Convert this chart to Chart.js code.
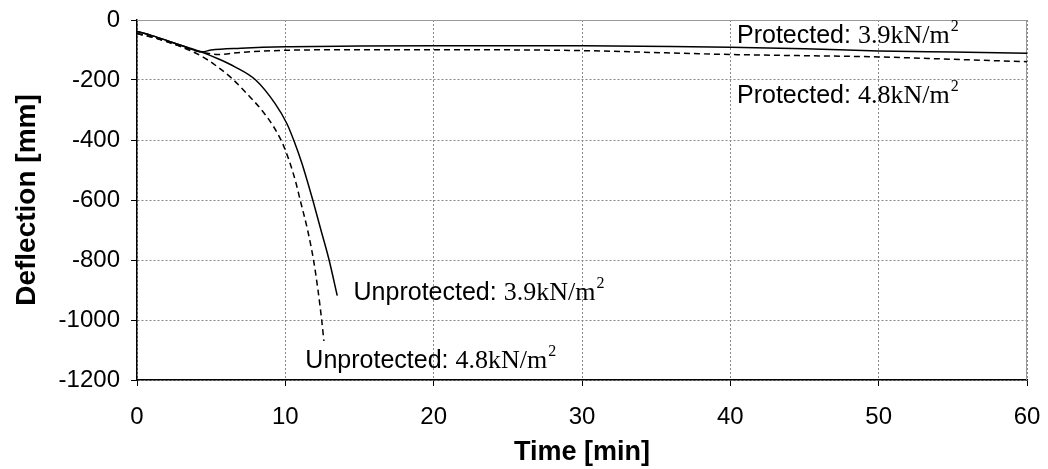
<!DOCTYPE html>
<html>
<head>
<meta charset="utf-8">
<script src="https://cdn.jsdelivr.net/npm/chart.js@4/dist/chart.umd.min.js"></script>
<style>
  html, body { margin: 0; padding: 0; background: #fff; }
  #wrap { width: 1048px; height: 469px; }
</style>
</head>
<body>
<div id="wrap"><canvas id="myChart" width="1048" height="469"></canvas></div>
<script>
// values: time [min] and deflection [mm]
const protected39Time = [0, 1, 2, 3, 4.4, 5, 7, 10, 15, 20, 30, 36, 40, 45, 50, 55, 60];
const protected39Defl = [-38, -52, -68, -85, -106, -100, -94, -89, -87, -86, -86, -88, -91, -96, -103, -107, -111];

const protected48Time = [0, 1, 2, 3, 4.4, 5.5, 7, 10, 15, 20, 30, 36, 40, 45, 50, 55, 60];
const protected48Defl = [-45, -57, -72, -88, -108, -115, -108, -101, -99, -99, -102, -110, -115, -119, -123, -131, -139];

const unprotected39Time = [0, 1, 2, 3, 4.4, 5.5, 6.6, 8, 9.3, 10.1, 10.6, 11.1, 11.5, 11.85, 12.4, 12.95, 13.5];
const unprotected39Defl = [-38, -52, -68, -85, -108, -130, -156, -200, -278, -345, -405, -475, -540, -600, -700, -800, -919];

const unprotected48Time = [0, 1, 2, 3, 4.4, 5.4, 6.4, 7.4, 8.4, 9.2, 9.8, 10.3, 10.7, 11, 11.5, 11.9, 12.2, 12.45, 12.6];
const unprotected48Defl = [-45, -57, -72, -90, -122, -155, -195, -245, -300, -355, -410, -475, -540, -600, -700, -800, -900, -1000, -1070];

const xTicks = [0, 10, 20, 30, 40, 50, 60];
const yTicks = [-1200, -1000, -800, -600, -400, -200, 0];

const labelPrefixes = ['Protected: ', 'Protected: ', 'Unprotected: ', 'Unprotected: '];
const labelLoads = ['3.9kN/m', '4.8kN/m', '3.9kN/m', '4.8kN/m'];

const SANS = "'Liberation Sans', Arial, sans-serif";
const SERIF = "'Liberation Serif', 'Times New Roman', serif";

function toPoints(ts, ds) {
  return ts.map((t, i) => ({ x: t, y: ds[i] }));
}

function line(label, ts, ds, dashed) {
  return {
    label: label,
    data: toPoints(ts, ds),
    borderColor: '#000',
    borderWidth: 1.5,
    borderDash: dashed ? [6, 4] : [],
    pointRadius: 0,
    fill: false,
    cubicInterpolationMode: 'monotone'
  };
}

// where each curve label sits, in data units (left edge, baseline)
const labelAnchors = [
  { x: 40.45, y: -77 },
  { x: 40.45, y: -277 },
  { x: 14.6, y: -932 },
  { x: 11.35, y: -1160 }
];

const curveLabels = {
  id: 'curveLabels',
  afterDatasetsDraw(chart) {
    const ctx = chart.ctx;
    const xs = chart.scales.x, ys = chart.scales.y;
    ctx.save();
    ctx.fillStyle = '#000';
    ctx.textBaseline = 'alphabetic';
    ctx.textAlign = 'left';
    labelAnchors.forEach((a, i) => {
      const px = xs.getPixelForValue(a.x);
      const py = ys.getPixelForValue(a.y);
      ctx.font = '25px ' + SANS;
      ctx.fillText(labelPrefixes[i], px, py);
      const w1 = ctx.measureText(labelPrefixes[i]).width;
      ctx.font = '26px ' + SERIF;
      ctx.fillText(labelLoads[i], px + w1, py);
      const w2 = ctx.measureText(labelLoads[i]).width;
      ctx.font = '16px ' + SERIF;
      ctx.fillText('2', px + w1 + w2 + 1, py - 12);
    });
    ctx.restore();
  }
};

const plotFrame = {
  id: 'plotFrame',
  beforeDatasetsDraw(chart) {
    const { ctx, chartArea: a } = chart;
    ctx.save();
    ctx.strokeStyle = '#999';
    ctx.lineWidth = 1;
    ctx.beginPath();
    ctx.moveTo(a.left, a.top + 0.5);
    ctx.lineTo(a.right - 0.5, a.top + 0.5);
    ctx.lineTo(a.right - 0.5, a.bottom);
    ctx.stroke();
    ctx.restore();
  }
};

const ctx = document.getElementById('myChart').getContext('2d');
const chart = new Chart(ctx, {
  type: 'line',
  data: {
    datasets: [
      line('Protected: 3.9kN/m2', protected39Time, protected39Defl, false),
      line('Protected: 4.8kN/m2', protected48Time, protected48Defl, true),
      line('Unprotected: 3.9kN/m2', unprotected39Time, unprotected39Defl, false),
      line('Unprotected: 4.8kN/m2', unprotected48Time, unprotected48Defl, true)
    ]
  },
  options: {
    responsive: false,
    animation: false,
    events: [],
    layout: { padding: { top: 20, right: 21, left: 0, bottom: 0 } },
    plugins: {
      legend: { display: false },
      tooltip: { enabled: false }
    },
    scales: {
      x: {
        type: 'linear',
        min: 0,
        max: 60,
        afterFit(scale) {
          scale.height = 89;
          scale.paddingLeft = 0;
          scale.paddingRight = 0;
        },
        afterBuildTicks(scale) { scale.ticks = xTicks.map(v => ({ value: v })); },
        ticks: {
          color: '#000',
          padding: 17,
          font: { family: SANS, size: 24 },
          maxRotation: 0,
          callback: v => String(v)
        },
        grid: {
          color: '#888',
          tickColor: '#000',
          tickLength: 6,
          tickBorderDash: [],
          lineWidth: 1
        },
        border: { color: '#000', width: 1.5, dash: [2, 2] },
        title: {
          display: true,
          text: 'Time [min]',
          color: '#000',
          font: { family: SANS, size: 27, weight: 'bold' },
          padding: { top: 0, bottom: 0 }
        }
      },
      y: {
        type: 'linear',
        min: -1200,
        max: 0,
        afterFit(scale) {
          scale.width = 137;
          scale.paddingTop = 0;
          scale.paddingBottom = 0;
        },
        afterBuildTicks(scale) { scale.ticks = yTicks.map(v => ({ value: v })); },
        ticks: {
          color: '#000',
          padding: 11,
          font: { family: SANS, size: 24 },
          callback: v => String(v)
        },
        grid: {
          color: '#888',
          tickColor: '#000',
          tickLength: 6,
          tickBorderDash: [],
          lineWidth: 1
        },
        border: { color: '#000', width: 1.5, dash: [2, 2] },
        title: {
          display: true,
          text: 'Deflection [mm]',
          color: '#000',
          font: { family: SANS, size: 28, weight: 'bold' },
          padding: { top: 10, bottom: 0 }
        }
      }
    }
  },
  plugins: [plotFrame, curveLabels]
});
</script>
</body>
</html>
